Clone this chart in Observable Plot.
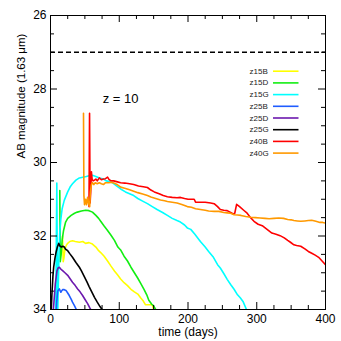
<!DOCTYPE html>
<html><head><meta charset="utf-8">
<script src="https://cdn.jsdelivr.net/npm/d3@7"></script>
<script src="https://cdn.jsdelivr.net/npm/@observablehq/plot@0.6"></script>
<style>html,body{margin:0;padding:0;background:#fff;} #chart{width:341px;height:341px;}</style>
</head><body><div id="chart"></div>
<script>
// Series names and colours (legend order)
const seriesNames = ["z15B","z15D","z15G","z25B","z25D","z25G","z40B","z40G"];
const seriesColors = ["#ffff00","#12ee12","#00ffff","#1f5cff","#6c18ae","#000000","#ff0000","#ff9900"];

// [time (days), AB magnitude]
const z15B = [[17.5,32.0],[18.5,32.7],[19.5,32.6],[21,32.35],[23,32.25],[25,32.2],[28,32.15],[32,32.13],[36,32.15],[42,32.17],[47,32.15],[51,32.2],[56,32.18],[61,32.22],[66,32.3],[70,32.4],[73,32.45],[78,32.55],[83,32.68],[88,32.82],[93,32.95],[98,33.07],[102,33.17],[107,33.27],[112,33.35],[117,33.45],[122,33.52],[127,33.58],[131,33.68],[135,33.77],[138,33.87],[143,33.87],[148,33.87],[150,34.0],[152,34.3]];
const z15D = [[13.5,30.76],[14.2,32.7],[15.5,32.5],[17,32.1],[19,31.85],[22,31.62],[25,31.52],[30,31.44],[35,31.38],[39,31.35],[45,31.32],[51,31.3],[56,31.31],[61,31.35],[66,31.44],[70,31.52],[73,31.6],[78,31.73],[83,31.85],[88,31.98],[93,32.12],[98,32.3],[102,32.38],[107,32.55],[112,32.68],[117,32.85],[122,33.0],[127,33.15],[131,33.28],[136,33.45],[140,33.6],[143,33.75],[147,33.85],[150,33.9],[153,34.0],[156,34.3]];
const z15G = [[7.5,34.3],[9.2,30.56],[10.3,34.3],[12.2,32.6],[13.5,31.9],[15,31.55],[17,31.25],[20,31.03],[25,30.8],[29,30.65],[32,30.58],[37,30.48],[42,30.42],[47,30.4],[52,30.38],[56,30.36],[61,30.35],[66,30.38],[71,30.42],[76,30.44],[81,30.5],[86,30.52],[90,30.55],[95,30.62],[102,30.72],[109,30.8],[115,30.85],[121,30.9],[127,30.98],[134,31.05],[141,31.12],[148,31.2],[155,31.28],[163,31.36],[170,31.44],[177,31.52],[184,31.58],[189,31.62],[195,31.7],[199,31.78],[204,31.82],[210,31.95],[218,32.15],[225,32.3],[230,32.42],[237,32.58],[243,32.78],[247,32.87],[252,33.02],[257,33.18],[262,33.32],[267,33.45],[272,33.6],[276,33.68],[280,33.78],[285,34.0],[287,34.3]];
const z25B = [[7.5,34.3],[9,33.8],[10.4,33.5],[12.8,33.44],[15,33.53],[16,33.5],[17.6,33.46],[20,33.46],[22.5,33.48],[25,33.55],[27.3,33.62],[30,33.72],[32,33.8],[35,33.9],[37.5,34.0],[39,34.3]];
const z25D = [[3,34.3],[5,33.8],[7,33.3],[9.4,32.95],[11,32.87],[12.8,32.85],[15,32.9],[17.6,32.94],[21,33.0],[25,33.07],[28,33.15],[32,33.26],[36,33.35],[39.5,33.44],[43,33.52],[46.7,33.62],[50,33.72],[54,33.84],[57,33.95],[58.5,34.0],[60,34.3]];
const z25G = [[0.5,34.3],[2,33.6],[3.5,33.1],[4.6,32.85],[6.5,32.6],[8,32.45],[10,32.3],[12,32.2],[14,32.28],[16,32.3],[18,32.28],[20,32.3],[22,32.36],[25,32.4],[28,32.48],[32,32.58],[37,32.72],[42,32.85],[45,32.95],[49,33.1],[53,33.25],[56,33.37],[60,33.52],[64,33.67],[68,33.8],[72,33.92],[75,34.0],[77,34.3]];
const z40B = [[56,31.2],[56.8,28.66],[57.6,31.1],[58.5,30.8],[59.5,30.25],[60.5,30.45],[62,30.5],[64,30.48],[66,30.45],[68,30.5],[71,30.42],[74,30.47],[77,30.45],[80,30.44],[83,30.4],[85,30.46],[88,30.5],[92,30.5],[96,30.52],[102,30.55],[108,30.56],[115,30.58],[121,30.6],[128,30.64],[135,30.66],[141,30.68],[146,30.75],[151,30.8],[158,30.85],[164,30.9],[170,30.93],[177,30.95],[184,30.96],[189,30.95],[195,30.98],[200,31.0],[206,31.0],[209,31.0],[211,31.08],[218,31.08],[225,31.08],[233,31.1],[238,31.12],[243,31.2],[247,31.28],[252,31.3],[257,31.31],[262,31.36],[266,31.4],[268,31.38],[270.7,31.14],[275,31.2],[281,31.3],[286,31.38],[291,31.5],[296,31.6],[302,31.68],[308,31.72],[315,31.82],[322,31.92],[328,31.95],[334,31.99],[340,32.05],[345,32.12],[349,32.17],[354,32.24],[358,32.26],[364,32.28],[370,32.35],[375,32.42],[380,32.47],[385,32.52],[390,32.58],[395,32.68],[400,32.78]];
const z40G = [[48,28.66],[48.6,30.9],[49.5,31.15],[51,31.0],[52.5,31.15],[54,30.95],[55.5,31.12],[57,31.2],[58,30.8],[59.5,30.6],[61,30.55],[63,30.6],[65,30.55],[68,30.58],[71,30.55],[74,30.58],[77,30.6],[80,30.55],[84,30.55],[88,30.54],[92,30.56],[97,30.6],[102,30.67],[108,30.7],[115,30.74],[121,30.78],[127,30.82],[134,30.86],[141,30.9],[146,30.94],[153,30.98],[160,31.02],[166,31.04],[170,31.06],[177,31.08],[184,31.1],[191,31.14],[199,31.2],[205,31.22],[211,31.26],[218,31.28],[225,31.3],[230,31.32],[238,31.33],[245,31.33],[252,31.36],[257,31.37],[262,31.38],[267,31.42],[272,31.43],[277,31.44],[284,31.47],[291,31.49],[298,31.5],[305,31.51],[312,31.52],[318,31.53],[325,31.52],[332,31.51],[339,31.52],[345,31.55],[350,31.56],[354,31.58],[359,31.59],[364,31.6],[370,31.59],[375,31.58],[380,31.57],[386,31.6],[392,31.63],[396,31.63],[400,31.65]];

const seriesData = [z15B, z15D, z15G, z25B, z25D, z25G, z40B, z40G];

// Reference (dashed) level and annotation
const limitMag = [27];
const annotation = [{t: 102, m: 28.26, text: "z = 10"}];

// Tick values
const xMajor = [0, 100, 200, 300, 400];
const xMinor = d3.range(0, 401, 25).filter(v => v % 100 !== 0);
const yMajor = [26, 28, 30, 32, 34];
const yMinor = d3.range(26, 34.01, 0.5).filter(v => v % 2 !== 0);

// ---- build ----
const W = 341, H = 341, mL = 50, mR = 16, mT = 15, mB = 32;
const innerW = W - mL - mR, innerH = H - mT - mB;
const rows = seriesData.flatMap((arr, i) => arr.map(([t, m]) => ({t, m, s: seriesNames[i]})));

// legend layout (pixel -> data)
const pxToT = px => (px - mL) / innerW * 400;
const pyToM = py => 26 + (py - mT) / innerH * 8;
const legend = seriesNames.map((s, i) => ({s, c: seriesColors[i], m: pyToM(70.7 + 11.7 * i)}));

const plot = Plot.plot({
  width: W, height: H,
  marginLeft: mL, marginRight: mR, marginTop: mT, marginBottom: mB,
  style: {fontFamily: "'Liberation Sans', Arial, sans-serif", fontSize: "12px", background: "#fff", color: "#000"},
  x: {domain: [0, 400]},
  y: {domain: [26, 34], reverse: true},
  color: {domain: seriesNames, range: seriesColors},
  marks: [
    Plot.ruleY(limitMag, {y: d => d, stroke: "#000", strokeWidth: 1.6, strokeDasharray: "5,3"}),
    Plot.line(rows, {x: "t", y: "m", z: "s", stroke: "s", strokeWidth: 1.6, clip: true}),
    Plot.text(annotation, {x: "t", y: "m", text: "text", fontSize: 13, fill: "#000"}),
    // legend
    Plot.text(legend, {x: () => pxToT(249), y: "m", text: "s", textAnchor: "start", fontSize: 8, fill: "#222"}),
    Plot.link(legend, {x1: () => pxToT(272.5), x2: () => pxToT(298), y1: "m", y2: "m", stroke: "c", strokeWidth: 1.6}),
    // ticks (inward, all four sides)
    Plot.tickX(xMajor, {x: d => d, insetTop: innerH - 7, stroke: "#000"}),
    Plot.tickX(xMinor, {x: d => d, insetTop: innerH - 4, stroke: "#000"}),
    Plot.tickX(xMajor, {x: d => d, insetBottom: innerH - 7, stroke: "#000"}),
    Plot.tickX(xMinor, {x: d => d, insetBottom: innerH - 4, stroke: "#000"}),
    Plot.tickY(yMajor, {y: d => d, insetRight: innerW - 7, stroke: "#000"}),
    Plot.tickY(yMinor, {y: d => d, insetRight: innerW - 4, stroke: "#000"}),
    Plot.tickY(yMajor, {y: d => d, insetLeft: innerW - 7, stroke: "#000"}),
    Plot.tickY(yMinor, {y: d => d, insetLeft: innerW - 4, stroke: "#000"}),
    Plot.frame({stroke: "#000"}),
    Plot.axisX({ticks: xMajor, tickSize: 0, tickPadding: 5, label: null, fontSize: 12}),
    Plot.axisY({ticks: yMajor, tickSize: 0, tickPadding: 4, label: null, fontSize: 12}),
    Plot.text(["time (days)"], {frameAnchor: "bottom", dy: 26, fontSize: 12, fill: "#000"}),
    Plot.text(["AB magnitude (1.63 μm)"], {frameAnchor: "left", rotate: -90, dx: -29, dy: -4, fontSize: 11.5, fill: "#000"})
  ]
});
document.getElementById("chart").appendChild(plot);
</script></body></html>
